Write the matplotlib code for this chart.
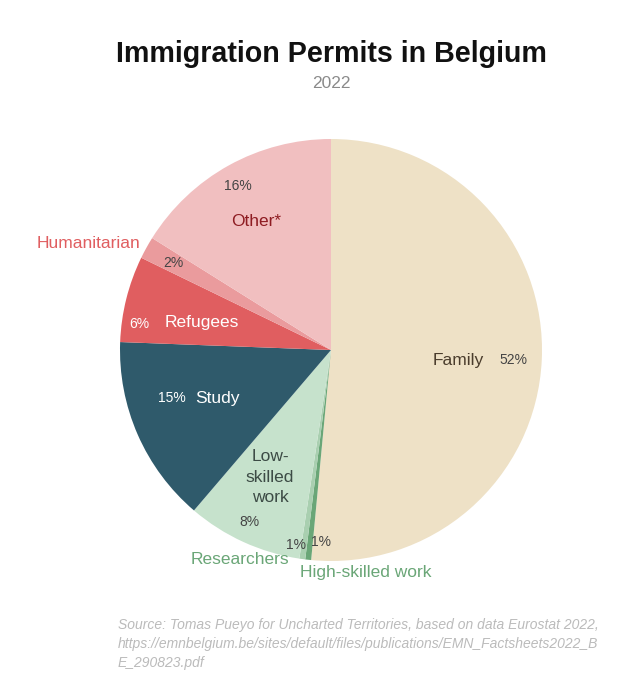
import matplotlib
matplotlib.use("Agg")
import matplotlib.pyplot as plt

categories = ["Family", "High-skilled work", "Researchers", "Low-skilled work",
              "Study", "Refugees", "Humanitarian", "Other*"]
# wedge sizes (%), labels as printed
values = [51.5, 0.45, 0.45, 8.85, 14.35, 6.6, 1.7, 16.1]
pct_labels = ["52%", "1%", "1%", "8%", "15%", "6%", "2%", "16%"]
colors = ["#EEE1C6", "#6AA677", "#A9CFB0", "#C6E2CC", "#2F5A6B",
          "#E05E60", "#EA9B9D", "#F1BFC0"]

plt.rcParams['font.family'] = ['Liberation Sans', 'DejaVu Sans']

W, H = 636, 680
fig = plt.figure(figsize=(W / 100, H / 100), dpi=100)
ax = fig.add_axes([0, 0, 1, 1])

cx, cy, r = 331, H - 350, 211
ax.pie(values, colors=colors, startangle=90, counterclock=False,
       center=(cx, cy), radius=r, wedgeprops=dict(linewidth=0))
ax.set_xlim(0, W)
ax.set_ylim(0, H)
ax.set_aspect('equal')
ax.axis('off')

def T(x, y, s, size=12.5, color="#333333", **kw):
    ax.text(x, H - y, s, fontsize=size, color=color, ha=kw.pop('ha', 'center'),
            va=kw.pop('va', 'center'), **kw)

# Title
T(331, 54, "Immigration Permits in Belgium", size=20.6, color="#111111", weight="bold")
T(331, 83, "2022", size=12.5, color="#8A8A8A")

# Labels
T(238, 186, pct_labels[7], size=10, color="#444444")
T(256, 222, categories[7], size=12.5, color="#8E1C22")
T(89, 244, categories[6], size=12.5, color="#E05E60")
T(173, 263, pct_labels[6], size=10, color="#444444")
T(139, 324, pct_labels[5], size=10, color="white")
T(202, 323, categories[5], size=12.5, color="white")
T(172, 398, pct_labels[4], size=10, color="white")
T(217, 398, categories[4], size=12.5, color="white")
T(270, 477, "Low-\nskilled\nwork", size=12.5, color="#3C4B45", linespacing=1.45)
T(249, 522, pct_labels[3], size=10, color="#444444")
T(296, 545, pct_labels[2], size=10, color="#444444")
T(321, 542, pct_labels[1], size=10, color="#444444")
T(240, 560, categories[2], size=12.5, color="#6AA677")
T(366, 573, categories[1], size=12.5, color="#6AA677")
T(458, 360, categories[0], size=12.5, color="#4A3C2C")
T(513, 360, pct_labels[0], size=10, color="#444444")

# Source
T(118, 644, "Source: Tomas Pueyo for Uncharted Territories, based on data Eurostat 2022,\n"
            "https://emnbelgium.be/sites/default/files/publications/EMN_Factsheets2022_B\n"
            "E_290823.pdf", size=10, color="#BBBBBB", ha='left', style='italic',
  linespacing=1.5)

fig.savefig("out.png", dpi=100, facecolor="white")
